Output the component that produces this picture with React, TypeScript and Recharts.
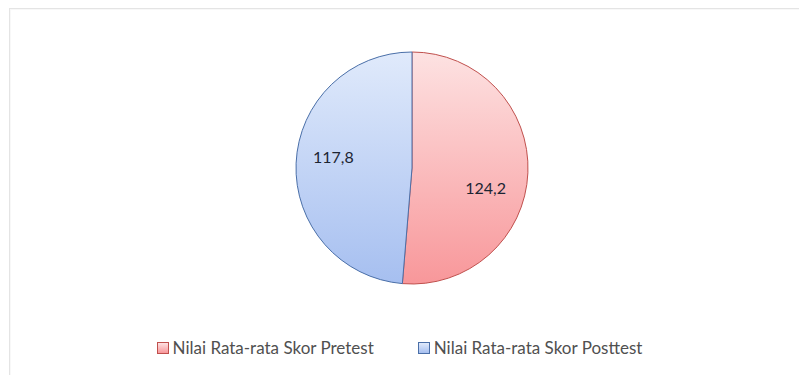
import { PieChart, Pie, Cell, Legend } from 'recharts';

const categories = ['Nilai Rata-rata Skor Pretest', 'Nilai Rata-rata Skor Posttest'];
const scores = [124.2, 117.8];

const chartData = categories.map((name, i) => ({ name, value: scores[i] }));

const sliceStyles = [
  { id: 'pretestFill', top: '#fde2e2', bottom: '#f8979a', stroke: '#c0504d' },
  { id: 'posttestFill', top: '#e0eafb', bottom: '#a6bff0', stroke: '#4a6fa8' },
];

const FONT = "Lato, 'Open Sans', sans-serif";
const RADIAN = Math.PI / 180;

// label nudges so the numbers sit like the best-fit placement
const labelNudge = [
  { dx: -4, dy: 16 },
  { dx: -1, dy: -8 },
];

const renderLabel = (props: any) => {
  const { cx, cy, midAngle, outerRadius, index, value } = props;
  const r = outerRadius * 0.67;
  const x = cx + r * Math.cos(-midAngle * RADIAN) + labelNudge[index].dx;
  const y = cy + r * Math.sin(-midAngle * RADIAN) + labelNudge[index].dy;
  return (
    <text
      x={x}
      y={y}
      fill="#1c2533"
      fontSize={16}
      fontFamily={FONT}
      textAnchor="middle"
      dominantBaseline="central"
    >
      {String(value).replace('.', ',')}
    </text>
  );
};

const renderLegend = () => (
  <div
    style={{
      display: 'flex',
      justifyContent: 'center',
      gap: 44,
      fontFamily: FONT,
      fontSize: 17,
      color: '#505050',
    }}
  >
    {categories.map((name, i) => (
      <span key={name} style={{ display: 'flex', alignItems: 'center', gap: 4 }}>
        <span
          style={{
            width: 10,
            height: 10,
            display: 'inline-block',
            background: `linear-gradient(${sliceStyles[i].top}, ${sliceStyles[i].bottom})`,
            border: `1px solid ${sliceStyles[i].stroke}`,
          }}
        />
        {name}
      </span>
    ))}
  </div>
);

const App = () => {
  return (
    <div style={{ position: 'absolute', left: 0, top: 0, width: 799, height: 375, background: '#fff', overflow: 'hidden' }}>
      <div
        style={{
          position: 'absolute',
          left: 9,
          top: 8,
          width: 820,
          height: 400,
          border: '1px solid #e4e4e4',
          boxShadow: 'inset 1px 1px 1px rgba(0,0,0,0.03)',
        }}
      />
      <PieChart
        width={799}
        height={375}
        margin={{ top: 0, right: 0, bottom: 0, left: 0 }}
        style={{ position: 'absolute', left: 0, top: 0 }}
      >
        <defs>
          {sliceStyles.map((s) => (
            <linearGradient key={s.id} id={s.id} x1="0" y1="0" x2="0" y2="1">
              <stop offset="0%" stopColor={s.top} />
              <stop offset="100%" stopColor={s.bottom} />
            </linearGradient>
          ))}
        </defs>
        <Pie
          data={chartData}
          dataKey="value"
          nameKey="name"
          cx={412}
          cy={168}
          outerRadius={116}
          startAngle={90}
          endAngle={-270}
          stroke="#4a6fa8"
          strokeWidth={1}
          label={renderLabel}
          labelLine={false}
          isAnimationActive={false}
        >
          {chartData.map((d, i) => (
            <Cell key={d.name} fill={`url(#${sliceStyles[i].id})`} stroke={sliceStyles[i].stroke} />
          ))}
        </Pie>
        <Legend
          content={renderLegend}
          verticalAlign="bottom"
          wrapperStyle={{ left: 0, width: 799, bottom: 17 }}
        />
      </PieChart>
    </div>
  );
};

export default App;
